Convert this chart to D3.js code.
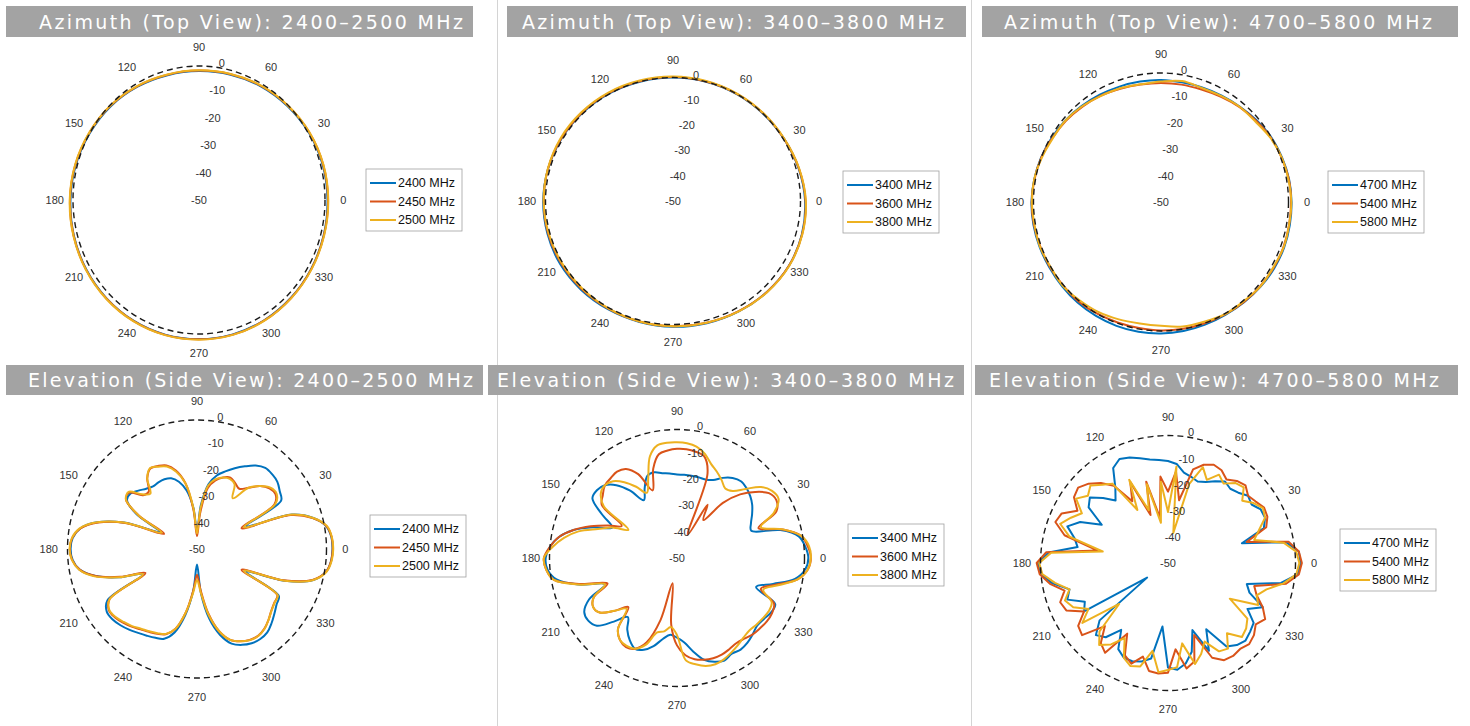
<!DOCTYPE html>
<html>
<head>
<meta charset="utf-8">
<script src="https://cdn.jsdelivr.net/npm/d3@7"></script>
<style>
  body { margin: 0; background: #fff; }
  svg { display: block; }
</style>
</head>
<body>
<svg id="chart" width="1470" height="726"></svg>
<script>
// ---- data ----
const titles = [
  'Azimuth (Top View): 2400–2500 MHz',
  'Azimuth (Top View): 3400–3800 MHz',
  'Azimuth (Top View): 4700–5800 MHz',
  'Elevation (Side View): 2400–2500 MHz',
  'Elevation (Side View): 3400–3800 MHz',
  'Elevation (Side View): 4700–5800 MHz'
];
const legendNames = [
  ['2400 MHz', '2450 MHz', '2500 MHz'],
  ['3400 MHz', '3600 MHz', '3800 MHz'],
  ['4700 MHz', '5400 MHz', '5800 MHz']
];
const thetaTicks = [0, 30, 60, 90, 120, 150, 180, 210, 240, 270, 300, 330];
const rTicks = [0, -10, -20, -30, -40, -50];

const angles15 = d3.range(0, 360, 15);
const angles10 = d3.range(0, 360, 10);
const angles5 = d3.range(0, 360, 5);

// azimuth, dB every 15 deg
const az2400 = [1.0, 0.8, 0.3, -0.4, -1.0, -1.6, -1.9, -1.8, -1.2, -0.5, 0.0, 0.6, 1.0, 1.4, 1.7, 1.9, 2.0, 2.0, 1.9, 1.9, 1.8, 1.6, 1.4, 1.2];
const az2450 = [1.2, 1.0, 0.5, -0.2, -0.8, -1.4, -1.7, -1.6, -1.0, -0.3, 0.2, 0.8, 1.2, 1.5, 1.8, 2.0, 2.1, 2.1, 2.0, 2.0, 1.9, 1.7, 1.5, 1.3];
const az2500 = [1.3, 1.1, 0.6, -0.1, -0.7, -1.3, -1.6, -1.5, -0.9, -0.2, 0.3, 0.9, 1.3, 1.6, 1.9, 2.1, 2.2, 2.2, 2.1, 2.1, 2.0, 1.8, 1.6, 1.4];
const az3400 = [1.8, 1.0, 0.3, 0.0, 0.0, 0.0, 0.0, 0.0, 0.2, 0.3, 0.5, 0.7, 0.9, 1.0, 1.1, 0.9, 0.7, 0.7, 0.9, 1.2, 1.6, 2.1, 2.5, 2.3];
const az3600 = [2.0, 1.1, 0.3, 0.1, 0.1, 0.1, 0.2, 0.2, 0.4, 0.5, 0.6, 0.7, 0.7, 0.7, 0.6, 0.5, 0.4, 0.5, 0.7, 1.0, 1.5, 2.1, 2.5, 2.4];
const az3800 = [2.1, 1.2, 0.4, 0.2, 0.2, 0.3, 0.4, 0.5, 0.7, 0.8, 0.9, 0.8, 0.7, 0.5, 0.3, 0.2, 0.3, 0.5, 0.7, 1.0, 1.6, 2.2, 2.6, 2.5];
// azimuth, dB every 10 deg
const az4700 = [1.2, 1.0, 0.5, 0.0, -0.9, -1.8, -2.4, -2.8, -2.9, -2.7, -2.6, -2.4, -2.0, -1.5, -0.9, -0.4, 0.1, 0.5,
  0.8, 0.8, 0.7, 0.6, 0.7, 0.9, 1.0, 1.1, 1.1, 1.0, 0.8, 0.6, 0.5, 0.7, 1.0, 1.3, 1.4, 1.3];
const az5400 = [1.0, 0.9, 0.3, -0.2, -1.2, -2.0, -2.9, -3.6, -3.8, -3.9, -3.8, -3.3, -2.5, -1.9, -1.2, -0.7, 0.0, 0.4,
  0.7, 0.6, 0.4, 0.3, 0.2, 0.3, 0.0, -0.3, -0.4, -0.2, -0.1, 0.0, 0.3, 0.6, 0.8, 1.0, 1.1, 1.0];
const az5800 = [1.1, 0.7, 0.4, -0.4, -1.6, -1.9, -2.6, -3.0, -2.4, -3.3, -3.7, -3.1, -2.6, -1.7, -1.0, -0.9, -0.2, 0.5,
  0.6, 0.4, 0.5, 0.1, 0.4, -0.3, -0.8, -1.6, -2.2, -2.0, -1.0, -0.6, 0.2, 0.3, 0.9, 0.8, 1.2, 1.0];

// elevation, dB every 5 deg
const el2400 = [2.3, 2.1, 0.7, -3.5, -11, -29, -12.5, -11, -9.5, -9, -9, -10.5, -13, -15.5, -18, -20.5, -24.5, -33,
  -43, -34, -27, -23, -20.8, -20.2, -20.2, -20.4, -19.5, -18, -16.5, -17, -23, -34, -20, -10, -4.2, -1.8,
  -1.2, -1.8, -4, -9.5, -18, -27, -10, -7.5, -7.5, -8.2, -9.2, -10.3, -11.2, -12, -13, -16.5, -24, -34,
  -44, -33, -22.5, -15.5, -11, -9, -7.8, -7.4, -7.8, -9.3, -11, -12.5, -13.5, -29, -14, -3.5, 0.6, 2.0];
const el2450 = [2.4, 2.2, 0.8, -3.8, -11.5, -31, -15.5, -13, -13.5, -15.5, -19, -21.5, -20.5, -19.5, -20.5, -22.5, -26, -36,
  -45, -35, -24, -18.5, -15.5, -14.5, -14, -16.5, -21, -20.5, -16, -16.5, -24, -36, -20.5, -10.5, -4.3, -1.6,
  -0.9, -1.6, -4, -9.5, -18.5, -28, -11, -8.5, -8.7, -9.6, -10.7, -12, -12.9, -13.7, -14.8, -18, -25, -34,
  -40, -34, -24.5, -17, -12.5, -10.5, -9.3, -8.9, -9.6, -11, -12.6, -13.6, -14.2, -31, -14.5, -3.8, 0.6, 2.0];
const el2500 = [2.6, 2.3, 1.0, -3.5, -11, -30, -15, -12.5, -13, -15.5, -19, -26, -21, -20, -20.5, -22, -25, -34,
  -44, -34, -24, -19, -16, -14.8, -13.8, -16.5, -22, -20, -15.5, -16.5, -24, -35, -20, -10, -4, -1.5,
  -0.8, -1.5, -3.8, -9, -18, -27, -11, -8.7, -9, -10, -11, -12.3, -13.2, -14, -15, -18, -25, -33,
  -38, -33, -24, -17, -12.5, -10.5, -9.2, -8.8, -9.5, -11, -12.5, -13.5, -14, -30, -14, -3.5, 0.8, 2.2];

const el3400 = [1.5, 0.5, -1.5, -8, -19, -18, -16, -14, -12.5, -11.5, -11, -12, -14, -16.5, -17.5, -17.5, -17.5, -17.5,
  -17.5, -17, -16.5, -15.5, -16, -20, -24, -18, -13, -10, -9, -9.5, -16, -22, -15, -8, -3, 0,
  1.5, 1, -2, -10, -20, -12, -8, -7.5, -9, -15, -20, -16, -13, -11, -12, -14.5, -18, -20,
  -19, -17, -13, -9, -7, -6, -7, -6.5, -7, -8, -9, -8.5, -7.5, -7.5, -17, -11, -3, 0.5];
const el3600 = [2.5, 1.5, -0.5, -7, -16, -7, -5, -6, -10, -15, -22, -32, -26, -40, -15, -9, -8, -7.5,
  -7.5, -8, -9, -14, -22, -14, -10, -9, -9.5, -10, -12, -14, -25, -20, -14, -8, -3, 0,
  2.2, 1.5, -1, -11, -21, -14, -12, -13, -18, -23, -14, -11, -10, -11, -15, -25, -40, -24,
  -16, -12, -10, -9, -8.5, -8.5, -9, -9.5, -9, -8, -7.5, -7, -7, -8, -15, -10, -2, 1.5];
const el3800 = [2.5, 2.0, -0.5, -7, -15, -8, -4, -4.5, -7, -12, -16, -17, -15, -13, -11, -8, -6, -5.2,
  -5, -5, -5.5, -9, -17, -22, -18, -14, -11, -10, -11, -15, -28, -22, -17, -10, -5, -1,
  2.2, 1.5, -1, -10, -20, -14, -12, -13, -18, -22, -14, -11, -10.5, -11, -14, -20, -21, -23,
  -20, -10, -8, -6.5, -6, -6.5, -7.5, -8.5, -9.5, -10, -9.5, -9, -8.5, -9, -14, -9, -2, 1.5];

const el4700 = [2.0, 1.5, -3, -20, -10, -8, -8, -10, -9, -11, -12, -11, -13, -15, -16, -15, -14, -11,
  -10, -9.5, -8.8, -7.5, -6, -5, -7, -14, -18, -14, -10, -12, -20, -12, -8, -12, -14, -3,
  1.0, 0, -4, -10, -8, -14, -12, -40, -15, -10, -12, -18, -11, -9, -9, -10, -12, -25,
  -9, -8, -10, -14, -22, -12, -20, -10, -8, -7, -8, -9, -14, -9, -16, -18, -5, 1];
const el5400 = [2.5, 1.5, -2, -18, -9, -7, -6.5, -8, -9, -7, -8, -10, -8, -7.5, -9, -12, -25, -14,
  -22, -16, -32, -17, -30, -15, -22, -13, -9, -6, -4, -5, -9, -4, -3, -8, -22, -2,
  1.5, 0.5, -3, -8, -5, -6, -12, -7, -6, -15, -9, -7, -18, -10, -8, -12, -7, -6.5,
  -7, -16, -8, -10, -20, -9, -6, -5.5, -6, -5, -6, -8, -6, -9, -13, -15, -3, 1.5];
const el5800 = [1.5, 0.5, -4, -15, -12, -8, -7, -9, -12, -8, -9, -12, -10, -14, -10, -18, -38, -12,
  -30, -18, -34, -18, -28, -14, -26, -12, -10, -7, -9, -6, -11, -8, -5, -10, -24, -4,
  0.5, -0.5, -5, -10, -7, -9, -14, -9, -25, -12, -8, -11, -16, -9, -7, -8, -15, -7,
  -8, -9, -18, -9, -12, -16, -10, -9, -14, -9, -10, -12, -22, -11, -13, -10, -4, 0.5];

const seriesColors = ['#0072BD', '#D95319', '#EDB120'];

// ---- layout ----
const panels = [
  { cx: 199, cy: 200, rx: 126, ry: 134, angles: angles15, series: [az2400, az2450, az2500], names: legendNames[0], legend: [366, 169] },
  { cx: 673, cy: 201, rx: 127.5, ry: 123.5, angles: angles15, series: [az3400, az3600, az3800], names: legendNames[1], legend: [843, 171] },
  { cx: 1161, cy: 202, rx: 127.5, ry: 129, angles: angles10, series: [az4700, az5400, az5800], names: legendNames[2], legend: [1328, 171] },
  { cx: 197, cy: 549, rx: 129.5, ry: 129, angles: angles5, series: [el2400, el2450, el2500], names: legendNames[0], legend: [370, 515] },
  { cx: 677, cy: 558, rx: 127.5, ry: 128.5, angles: angles5, series: [el3400, el3600, el3800], names: legendNames[1], legend: [848, 524] },
  { cx: 1168, cy: 563, rx: 127.5, ry: 127.5, angles: angles5, series: [el4700, el5400, el5800], names: legendNames[2], legend: [1340, 529], jagged: true }
];
const headers = [
  { x: 6, y: 6, w: 467, h: 31, tx: 39, tl: 424 },
  { x: 507, y: 6, w: 459, h: 31, tx: 522, tl: 422 },
  { x: 982, y: 6, w: 476, h: 31, tx: 1004, tl: 428 },
  { x: 6, y: 365, w: 477, h: 30, tx: 28, tl: 445 },
  { x: 488, y: 365, w: 476, h: 30, tx: 497, tl: 457 },
  { x: 975, y: 365, w: 483, h: 30, tx: 989, tl: 450 }
];

const svg = d3.select('#chart');
const rad = Math.PI / 180;
const rScale = d3.scaleLinear().domain([-50, 0]).range([0, 1]);

// column separators
[497.5, 971.5].forEach(x => {
  svg.append('line')
    .attr('x1', x).attr('x2', x).attr('y1', 0).attr('y2', 726)
    .attr('stroke', '#d4d4d4').attr('stroke-width', 1);
});

headers.forEach((h, i) => {
  svg.append('rect')
    .attr('x', h.x).attr('y', h.y).attr('width', h.w).attr('height', h.h)
    .attr('fill', '#a3a3a3');
  svg.append('text')
    .attr('x', h.tx).attr('y', h.y + h.h / 2 + 7)
    .attr('textLength', h.tl).attr('lengthAdjust', 'spacing')
    .style('font-family', 'DejaVu Sans, sans-serif')
    .style('font-size', '19px')
    .style('fill', '#fff')
    .text(titles[i]);
});

panels.forEach(p => {
  const g = svg.append('g');
  const px = (v, a) => p.cx + rScale(v) * p.rx * Math.cos(a * rad);
  const py = (v, a) => p.cy - rScale(v) * p.ry * Math.sin(a * rad);

  const line = d3.line()
    .x(d => px(d.v, d.a))
    .y(d => py(d.v, d.a))
    .curve(p.jagged ? d3.curveLinearClosed : d3.curveCatmullRomClosed.alpha(0.5));

  p.series.forEach((vals, i) => {
    const pts = vals.map((v, k) => ({ a: p.angles[k], v: v }));
    g.append('path')
      .attr('d', line(pts))
      .attr('fill', 'none')
      .attr('stroke', seriesColors[i])
      .attr('stroke-width', 2)
      .attr('stroke-linejoin', 'round');
  });

  // 0 dB reference
  g.append('ellipse')
    .attr('cx', p.cx).attr('cy', p.cy)
    .attr('rx', rScale(0) * p.rx).attr('ry', rScale(0) * p.ry)
    .attr('fill', 'none')
    .attr('stroke', '#1a1a1a')
    .attr('stroke-width', 1.4)
    .attr('stroke-dasharray', '6,4');

  g.selectAll('.theta')
    .data(thetaTicks)
    .enter()
    .append('text')
    .attr('x', d => p.cx + 1.145 * p.rx * Math.cos(d * rad))
    .attr('y', d => p.cy - 1.145 * p.ry * Math.sin(d * rad))
    .attr('text-anchor', 'middle')
    .attr('dominant-baseline', 'central')
    .style('font-family', 'Liberation Sans, Arial, sans-serif')
    .style('font-size', '11px')
    .style('fill', '#333')
    .text(d => d);

  g.selectAll('.rtick')
    .data(rTicks)
    .enter()
    .append('text')
    .attr('x', d => p.cx + 1.04 * rScale(d) * p.rx * Math.cos(80 * rad))
    .attr('y', d => p.cy - 1.04 * rScale(d) * p.ry * Math.sin(80 * rad))
    .attr('text-anchor', 'middle')
    .attr('dominant-baseline', 'central')
    .style('font-family', 'Liberation Sans, Arial, sans-serif')
    .style('font-size', '11px')
    .style('fill', '#333')
    .text(d => d);

  // legend
  const lg = svg.append('g')
    .attr('transform', 'translate(' + p.legend[0] + ',' + p.legend[1] + ')');
  lg.append('rect')
    .attr('width', 96).attr('height', 62)
    .attr('fill', '#fff')
    .attr('stroke', '#a0a0a0').attr('stroke-width', 0.8);
  p.names.forEach((n, i) => {
    const y = 14 + i * 18.5;
    lg.append('line')
      .attr('x1', 4).attr('x2', 30).attr('y1', y).attr('y2', y)
      .attr('stroke', seriesColors[i]).attr('stroke-width', 2);
    lg.append('text')
      .attr('x', 32).attr('y', y)
      .attr('dominant-baseline', 'central')
      .style('font-family', 'Liberation Sans, Arial, sans-serif')
      .style('font-size', '12.5px')
      .style('fill', '#111')
      .text(n);
  });
});
</script>
</body>
</html>
